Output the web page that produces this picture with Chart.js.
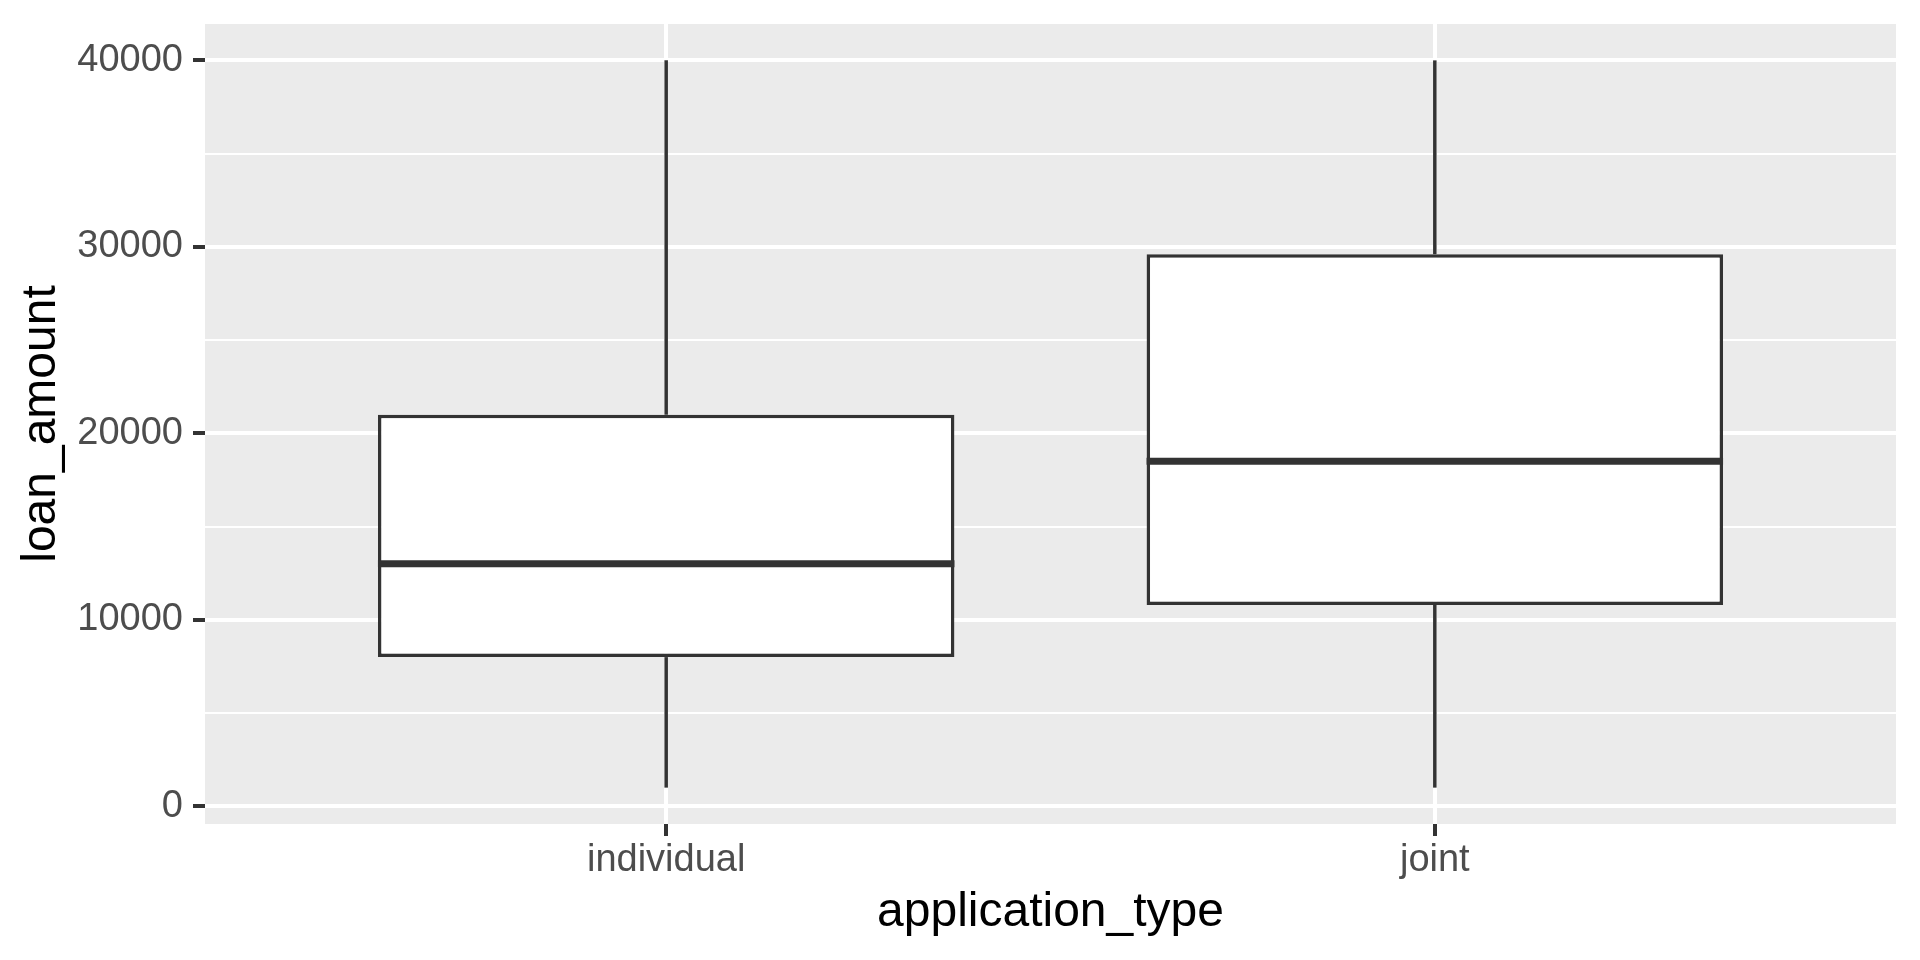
<!DOCTYPE html>
<html><head><meta charset="utf-8">
<script src="https://cdn.jsdelivr.net/npm/chart.js@4/dist/chart.umd.min.js"></script>
<style>html,body{margin:0;padding:0;background:#fff}#wrap{width:1920px;height:960px}</style>
</head><body><div id="wrap"><canvas id="c" width="1920" height="960"></canvas></div>
<script>
const categories = ['individual', 'joint'];
const whiskerLow = [1000, 1000];
const q1 = [8000, 10800];
const median = [13000, 18500];
const q3 = [21000, 29600];
const whiskerHigh = [40000, 40000];
const yTicks = [0, 5000, 10000, 15000, 20000, 25000, 30000, 35000, 40000];
const yLabelTicks = [0, 10000, 20000, 30000, 40000];

const FONT = '"Liberation Sans", Arimo, Arial, sans-serif';
const dataLo = Math.min(...whiskerLow), dataHi = Math.max(...whiskerHigh);
const expand = 0.05 * (dataHi - dataLo);

const mk = (lo, hi) => categories.map((c, i) => ({x: i + 1, y: [lo[i], hi[i]]}));
const common = {grouped: false, categoryPercentage: 1, barPercentage: 0.75};

const bgPlugin = {
  id: 'bg',
  beforeDraw(chart) {
    const {ctx, chartArea: a} = chart;
    ctx.save();
    ctx.fillStyle = '#ffffff';
    ctx.fillRect(0, 0, chart.width, chart.height);
    ctx.fillStyle = '#EBEBEB';
    ctx.fillRect(a.left, a.top, a.right - a.left, a.bottom - a.top);
    ctx.restore();
  }
};
const medianPlugin = {
  id: 'median',
  afterDatasetsDraw(chart) {
    const meta = chart.getDatasetMeta(2);
    const ys = chart.scales.y;
    const ctx = chart.ctx;
    ctx.save();
    ctx.strokeStyle = '#333333';
    ctx.lineWidth = 7;
    ctx.lineCap = 'butt';
    meta.data.forEach((el, i) => {
      const {x, width} = el.getProps(['x', 'width'], true);
      const y = ys.getPixelForValue(median[i]);
      ctx.beginPath();
      ctx.moveTo(x - width / 2, y);
      ctx.lineTo(x + width / 2, y);
      ctx.stroke();
    });
    ctx.restore();
  }
};

new Chart(document.getElementById('c'), {
  type: 'bar',
  data: {
    datasets: [
      Object.assign({data: mk(whiskerLow, q1), backgroundColor: '#333333', borderWidth: 0, maxBarThickness: 3.5}, common),
      Object.assign({data: mk(q3, whiskerHigh), backgroundColor: '#333333', borderWidth: 0, maxBarThickness: 3.5}, common),
      Object.assign({data: mk(q1, q3), backgroundColor: '#ffffff', borderColor: '#333333', borderWidth: 3.5, borderSkipped: false}, common)
    ]
  },
  options: {
    responsive: false,
    devicePixelRatio: 1,
    animation: false,
    events: [],
    layout: {padding: {top: 24, right: 24, bottom: 0, left: 0}},
    plugins: {legend: {display: false}, tooltip: {enabled: false}},
    scales: {
      x: {
        type: 'linear',
        min: 0.4,
        max: categories.length + 0.6,
        offset: false,
        afterBuildTicks: s => { s.ticks = categories.map((c, i) => ({value: i + 1})); },
        afterFit: s => { s.height = 136; s.paddingLeft = 0; s.paddingRight = 0; },
        border: {display: false},
        grid: {offset: false, color: '#ffffff', lineWidth: 4, tickColor: '#333333', tickLength: 12, tickWidth: 4, drawTicks: true},
        ticks: {
          autoSkip: false, maxRotation: 0, padding: 1.6, color: '#4D4D4D',
          font: {family: FONT, size: 38},
          callback: v => categories[v - 1] ?? ''
        },
        title: {display: true, text: 'application_type', color: '#000000', font: {family: FONT, size: 48}, padding: {top: 0, bottom: 18.2}}
      },
      y: {
        type: 'linear',
        min: dataLo - expand,
        max: dataHi + expand,
        afterBuildTicks: s => { s.ticks = yTicks.map(v => ({value: v})); },
        afterFit: s => { s.width = 205; s.paddingTop = 0; s.paddingBottom = 0; },
        border: {display: false},
        grid: {
          color: '#ffffff',
          lineWidth: c => (c.tick && yLabelTicks.includes(c.tick.value)) ? 4 : 2,
          tickColor: c => (c.tick && yLabelTicks.includes(c.tick.value)) ? '#333333' : 'rgba(0,0,0,0)',
          tickLength: 12, tickWidth: 4
        },
        ticks: {
          padding: 10, color: '#4D4D4D', font: {family: FONT, size: 38},
          callback: v => yLabelTicks.includes(v) ? String(v) : ''
        },
        title: {display: true, text: 'loan_amount', color: '#000000', font: {family: FONT, size: 48}, padding: {top: 13.2, bottom: 0}}
      }
    }
  },
  plugins: [bgPlugin, medianPlugin]
});
</script></body></html>
